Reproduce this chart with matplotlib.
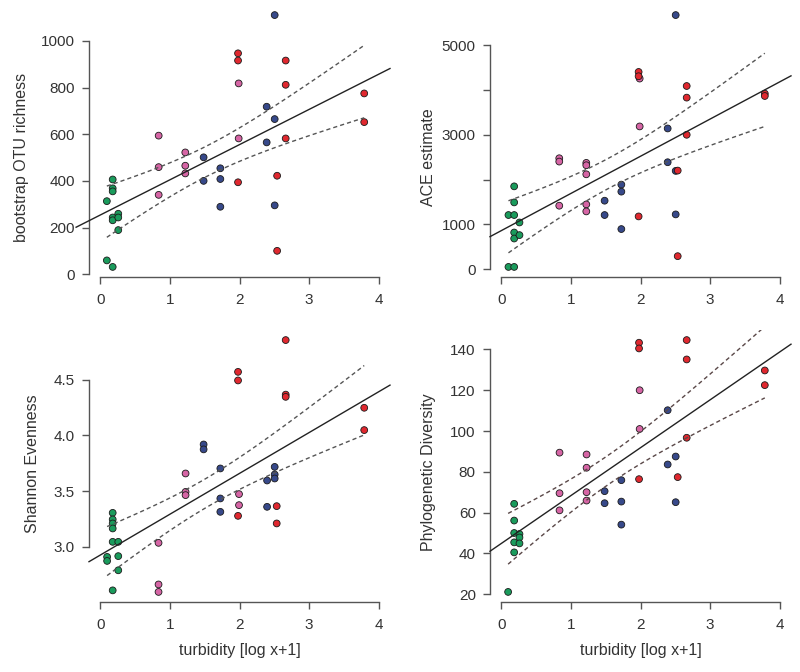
import numpy as np
import matplotlib
matplotlib.use("Agg")
import matplotlib.pyplot as plt

plt.rcParams['font.family'] = ['Liberation Sans', 'DejaVu Sans']

# ---------------- data ----------------
# group codes: G = green, P = pink, B = blue, R = red
rich_x = [0.096, 0.096, 0.18, 0.18, 0.18, 0.18, 0.18, 0.18, 0.26, 0.26, 0.26,
          0.84, 0.84, 0.84, 1.222, 1.222, 1.222, 1.988, 1.988,
          1.485, 1.485, 1.725, 1.725, 1.725, 2.39, 2.39, 2.505, 2.505, 2.505,
          1.979, 1.979, 1.979, 2.54, 2.54, 2.663, 2.663, 2.663, 3.79, 3.79]
rich_y = [313, 59, 406, 368, 355, 243, 231, 31, 259, 243, 189,
          594, 459, 340, 522, 465, 432, 818, 582,
          501, 400, 454, 408, 289, 718, 565, 1111, 665, 295,
          947, 916, 394, 422, 100, 916, 812, 582, 775, 652]
rich_g = list("GGGGGGGGGGG" "PPPPPPPP" "BBBBBBBBBB" "RRRRRRRRRR")

ace_x = [0.105, 0.105, 0.187, 0.187, 0.187, 0.187, 0.187, 0.187, 0.263, 0.263,
         0.834, 0.834, 0.834, 1.222, 1.222, 1.222, 1.222, 1.222, 1.988, 1.988,
         1.485, 1.485, 1.725, 1.725, 1.725, 2.39, 2.39, 2.505, 2.505, 2.505,
         1.973, 1.973, 1.973, 2.534, 2.534, 2.663, 2.663, 2.663, 3.784, 3.784]
ace_y = [1209, 51, 1849, 1491, 1209, 819, 685, 51, 1043, 761,
         2476, 2402, 1417, 2373, 2320, 2118, 1446, 1290, 4254, 3186,
         1529, 1209, 1888, 1731, 896, 3141, 2387, 5671, 2194, 1223,
         4402, 4306, 1178, 2201, 291, 4088, 3829, 3000, 3918, 3865]
ace_g = list("GGGGGGGGGG" "PPPPPPPPPP" "BBBBBBBBBB" "RRRRRRRRRR")

shan_x = [0.1, 0.1, 0.18, 0.18, 0.18, 0.18, 0.18, 0.18, 0.26, 0.26, 0.26,
          0.838, 0.838, 0.838, 1.226, 1.226, 1.226, 1.993, 1.993,
          1.485, 1.485, 1.725, 1.725, 1.725, 2.396, 2.396, 2.505, 2.505, 2.505,
          1.979, 1.979, 1.979, 2.534, 2.534, 2.663, 2.663, 2.663, 3.79, 3.79]
shan_y = [2.91, 2.874, 3.305, 3.246, 3.21, 3.165, 3.045, 2.61, 3.045, 2.917, 2.79,
          3.036, 2.663, 2.596, 3.658, 3.493, 3.464, 3.473, 3.374,
          3.918, 3.874, 3.703, 3.434, 3.314, 3.595, 3.359, 3.717, 3.649, 3.613,
          4.569, 4.492, 3.278, 3.365, 3.21, 4.854, 4.365, 4.345, 4.247, 4.047]
shan_g = list("GGGGGGGGGGG" "PPPPPPPP" "BBBBBBBBBB" "RRRRRRRRRR")

pd_x = [0.1, 0.187, 0.187, 0.187, 0.187, 0.187, 0.263, 0.263, 0.263,
        0.838, 0.838, 0.838, 1.226, 1.226, 1.226, 1.226, 1.988, 1.988,
        1.485, 1.485, 1.725, 1.725, 1.725, 2.39, 2.39, 2.505, 2.505,
        1.979, 1.979, 1.979, 2.534, 2.663, 2.663, 2.663, 3.784, 3.784]
pd_y = [21.1, 64.3, 56.1, 50.0, 45.4, 40.5, 49.5, 47.8, 44.9,
        89.4, 69.5, 61.1, 88.5, 82.0, 70.0, 65.9, 120.0, 101.0,
        70.5, 64.6, 75.9, 65.4, 54.1, 110.2, 83.6, 87.5, 65.1,
        143.3, 140.5, 76.4, 77.4, 144.6, 135.1, 96.7, 129.7, 122.5]
pd_g = list("GGGGGGGGG" "PPPPPPPPP" "BBBBBBBBB" "RRRRRRRRR")

y_labels = ["bootstrap OTU richness", "ACE estimate",
            "Shannon Evenness", "Phylogenetic Diversity"]
x_label = "turbidity [log x+1]"
x_ticks = [0, 1, 2, 3, 4]
y_ticks = [[0, 200, 400, 600, 800, 1000],
           [0, 1000, 3000, 5000],
           [3.0, 3.5, 4.0, 4.5],
           [20, 40, 60, 80, 100, 120, 140]]
y_ticklabels = [["0", "200", "400", "600", "800", "1000"],
                ["0", "1000", "3000", "5000"],
                ["3.0", "3.5", "4.0", "4.5"],
                ["20", "40", "60", "80", "100", "120", "140"]]
y_minor = [[], [2000, 4000], [], []]

colors = {"G": "#1a9b5c", "P": "#d665a5", "B": "#37498a", "R": "#e0282f"}
T_QUANT = 2.03  # ~ t(0.975, n-2)

panels = [(rich_x, rich_y, rich_g), (ace_x, ace_y, ace_g),
          (shan_x, shan_y, shan_g), (pd_x, pd_y, pd_g)]

W, H = 800, 672
fig = plt.figure(figsize=(W / 100, H / 100), dpi=100)

boxes = [(89, 5, 390, 277), (490, 5, 791, 277),
         (89, 330, 390, 602), (490, 330, 791, 602)]
ylab_x = [22, 428, 33, 428]
line_start = [-0.345, -0.16, -0.16, -0.16]
TXT = "#333333"
AX = "#555555"

for i, ((xs, ys, gs), (l, t, r, b)) in enumerate(zip(panels, boxes)):
    ax = fig.add_axes([l / W, 1 - b / H, (r - l) / W, (b - t) / H])
    xs = np.asarray(xs, float)
    ys = np.asarray(ys, float)
    xlo, xhi = -0.16, 4.16
    rng = ys.max() - ys.min()
    ylo, yhi = ys.min() - 0.04 * rng, ys.max() + 0.04 * rng
    ax.set_xlim(xlo, xhi)
    ax.set_ylim(ylo, yhi)

    # points
    ax.scatter(xs, ys, s=24, c=[colors[g] for g in gs], edgecolors="#1a1a1a",
               linewidths=0.6, zorder=3)

    # OLS fit and confidence band
    n = len(xs)
    slope, icpt = np.polyfit(xs, ys, 1)
    xx = np.linspace(line_start[i], xhi, 50)
    ax.plot(xx, icpt + slope * xx, color="#222222", lw=1.0, zorder=4,
            clip_on=False)
    resid = ys - (icpt + slope * xs)
    s2 = np.sum(resid ** 2) / (n - 2)
    sxx = np.sum((xs - xs.mean()) ** 2)
    xc = np.linspace(xs.min(), xs.max(), 100)
    se = np.sqrt(s2 * (1.0 / n + (xc - xs.mean()) ** 2 / sxx))
    fit = icpt + slope * xc
    dash_col = "#5a4848" if i == 3 else "#555555"
    for sign in (1, -1):
        ax.plot(xc, fit + sign * T_QUANT * se, color=dash_col, lw=1.0,
                linestyle=(0, (3, 2.2)), zorder=4)

    # R-style axes
    for s in ("top", "right"):
        ax.spines[s].set_visible(False)
    ax.spines["left"].set_bounds(y_ticks[i][0], y_ticks[i][-1])
    ax.spines["bottom"].set_bounds(0, 4)
    for s in ("left", "bottom"):
        ax.spines[s].set_color(AX)
        ax.spines[s].set_linewidth(1.0)
    ax.set_xticks(x_ticks)
    ax.set_xticklabels([str(v) for v in x_ticks])
    ax.set_yticks(y_ticks[i])
    ax.set_yticklabels(y_ticklabels[i])
    if y_minor[i]:
        ax.set_yticks(y_minor[i], minor=True)
    ax.tick_params(axis="both", which="both", direction="out", length=5.2,
                   width=1.0, color=AX, labelcolor=TXT, labelsize=11)
    ax.tick_params(axis="x", pad=6.5)
    ax.tick_params(axis="y", pad=5)
    ax.patch.set_visible(False)

    ax.set_ylabel(y_labels[i], fontsize=11.5, color=TXT, va="center")
    ymid = (y_ticks[i][0] + y_ticks[i][-1]) / 2
    ax.yaxis.set_label_coords((ylab_x[i] - l) / (r - l),
                              (ymid - ylo) / (yhi - ylo))
    if i >= 2:
        ax.set_xlabel(x_label, fontsize=11.5, color=TXT, va="center")
        ax.xaxis.set_label_coords((2 - xlo) / (xhi - xlo), -(650 - b) / (b - t))

fig.savefig("out.png", dpi=100, facecolor="white")
